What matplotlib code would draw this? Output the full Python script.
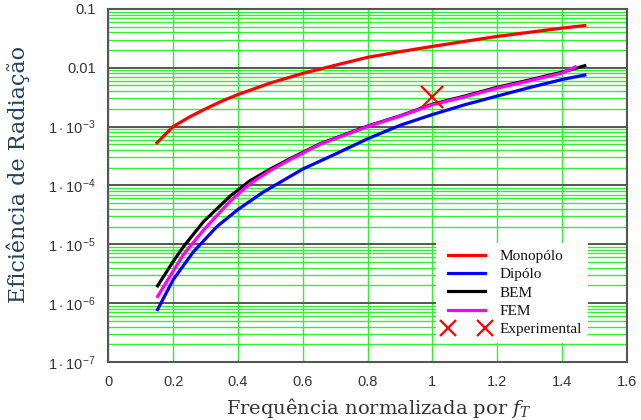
import matplotlib as mpl
mpl.use('Agg')
import matplotlib.pyplot as plt
from matplotlib.ticker import FixedLocator, LogLocator, NullFormatter

plt.rcParams['mathtext.fontset'] = 'custom'
plt.rcParams['mathtext.rm'] = 'Liberation Sans'
plt.rcParams['mathtext.it'] = 'DejaVu Serif:italic'

# curves (x = normalised frequency)
x_mono = [0.15, 0.2, 0.25, 0.3, 0.35, 0.4, 0.5, 0.6, 0.7, 0.8, 0.9, 1.0, 1.1, 1.2, 1.3, 1.4, 1.47]
y_mono = [5.3e-4, 1.0e-3, 1.45e-3, 2.0e-3, 2.7e-3, 3.5e-3, 5.5e-3, 8.0e-3, 1.1e-2, 1.5e-2,
          1.87e-2, 2.3e-2, 2.8e-2, 3.4e-2, 4.0e-2, 4.7e-2, 5.2e-2]

x_dip = [0.152, 0.2, 0.262, 0.335, 0.4, 0.478, 0.6, 0.7, 0.8, 0.9, 1.0, 1.1, 1.2, 1.3, 1.4, 1.47]
y_dip = [7.8e-7, 2.5e-6, 7.4e-6, 2.0e-5, 3.9e-5, 7.7e-5, 1.9e-4, 3.4e-4, 6.2e-4, 1.05e-3,
         1.6e-3, 2.35e-3, 3.3e-3, 4.6e-3, 6.3e-3, 7.5e-3]

x_bem = [0.152, 0.2, 0.231, 0.293, 0.376, 0.437, 0.5, 0.561, 0.653, 0.8, 0.9, 1.0, 1.1, 1.2, 1.3, 1.4, 1.47]
y_bem = [1.97e-6, 5.1e-6, 9.0e-6, 2.4e-5, 6.6e-5, 1.2e-4, 1.9e-4, 2.85e-4, 5.1e-4, 1.02e-3,
         1.52e-3, 2.4e-3, 3.3e-3, 4.65e-3, 6.2e-3, 8.4e-3, 1.08e-2]

x_fem = [0.152, 0.2, 0.231, 0.293, 0.376, 0.437, 0.5, 0.561, 0.653, 0.8, 0.9, 1.0, 1.1, 1.2, 1.3, 1.4, 1.44]
y_fem = [1.3e-6, 3.5e-6, 6.6e-6, 1.73e-5, 5.4e-5, 1.07e-4, 1.8e-4, 2.75e-4, 5.0e-4, 1.0e-3,
         1.5e-3, 2.35e-3, 3.2e-3, 4.5e-3, 6.0e-3, 8.1e-3, 1.03e-2]

x_exp = [1.0]
y_exp = [3.2e-3]

xticks = [0, 0.2, 0.4, 0.6, 0.8, 1, 1.2, 1.4, 1.6]
xtick_labels = ['0', '0.2', '0.4', '0.6', '0.8', '1', '1.2', '1.4', '1.6']
yticks = [1e-7, 1e-6, 1e-5, 1e-4, 1e-3, 1e-2, 1e-1]
ytick_labels = [r'$1\cdot10^{-7}$', r'$1\cdot10^{-6}$', r'$1\cdot10^{-5}$', r'$1\cdot10^{-4}$',
                r'$1\cdot10^{-3}$', '0.01', '0.1']

fig = plt.figure(figsize=(6.41, 4.2), dpi=100)
ax = fig.add_axes([0.169, 0.138, 0.809, 0.841])

ax.set_yscale('log')
ax.set_xlim(0, 1.6)
ax.set_ylim(1e-7, 0.1)

# grid: green minor decades + green verticals, dark major decades
ax.yaxis.set_major_locator(FixedLocator(yticks))
ax.yaxis.set_minor_locator(LogLocator(base=10, subs=range(2, 10), numticks=20))
ax.yaxis.set_minor_formatter(NullFormatter())
ax.set_yticks(yticks)
ax.set_yticklabels(ytick_labels)
ax.set_xticks(xticks)
ax.set_xticklabels(xtick_labels)

ax.grid(True, which='minor', axis='y', color='#33ee33', lw=1.0)
ax.grid(True, which='major', axis='x', color='#33ee33', lw=1.0)
ax.grid(True, which='major', axis='y', color='#555555', lw=1.4)
ax.set_axisbelow(True)

ax.tick_params(which='both', length=0, labelsize=10.5, colors='#333333', pad=9)
for lab in ax.get_xticklabels() + ax.get_yticklabels():
    lab.set_fontfamily('Liberation Sans')
for s in ax.spines.values():
    s.set_color('#555555')
    s.set_linewidth(1.5)

ax.plot(x_mono, y_mono, color='#ff0000', lw=2.3, label='Monopólo')
ax.plot(x_dip, y_dip, color='#0000ff', lw=2.3, label='Dipólo')
ax.plot(x_bem, y_bem, color='#000000', lw=2.3, label='BEM')
ax.plot(x_fem, y_fem, color='#ff00ff', lw=2.3, label='FEM')
ax.plot(x_exp, y_exp, ls='none', marker='x', ms=16, mew=1.6, color='#ff0000',
        label='Experimental')

leg = ax.legend(loc='upper left', bbox_to_anchor=(0.618, 0.36), numpoints=2,
                markerscale=0.7, frameon=True, fancybox=False, framealpha=1,
                edgecolor='none', facecolor='white', handlelength=3.0,
                handletextpad=0.65, labelspacing=0.3, borderpad=0.45,
                prop={'family': 'Liberation Serif', 'size': 11})
for t in leg.get_texts():
    t.set_color('#111111')

ax.set_xlabel(r'Frequência normalizada por $f_T$', fontfamily='DejaVu Serif',
              fontsize=14, color='#333333')
ax.xaxis.set_label_coords(0.521, -0.097)
ax.set_ylabel('Eficiência de Radiação', fontfamily='DejaVu Serif',
              fontsize=16, color='#23405e')
ax.yaxis.set_label_coords(-0.151, 0.53)

fig.savefig('out.png', dpi=100)
